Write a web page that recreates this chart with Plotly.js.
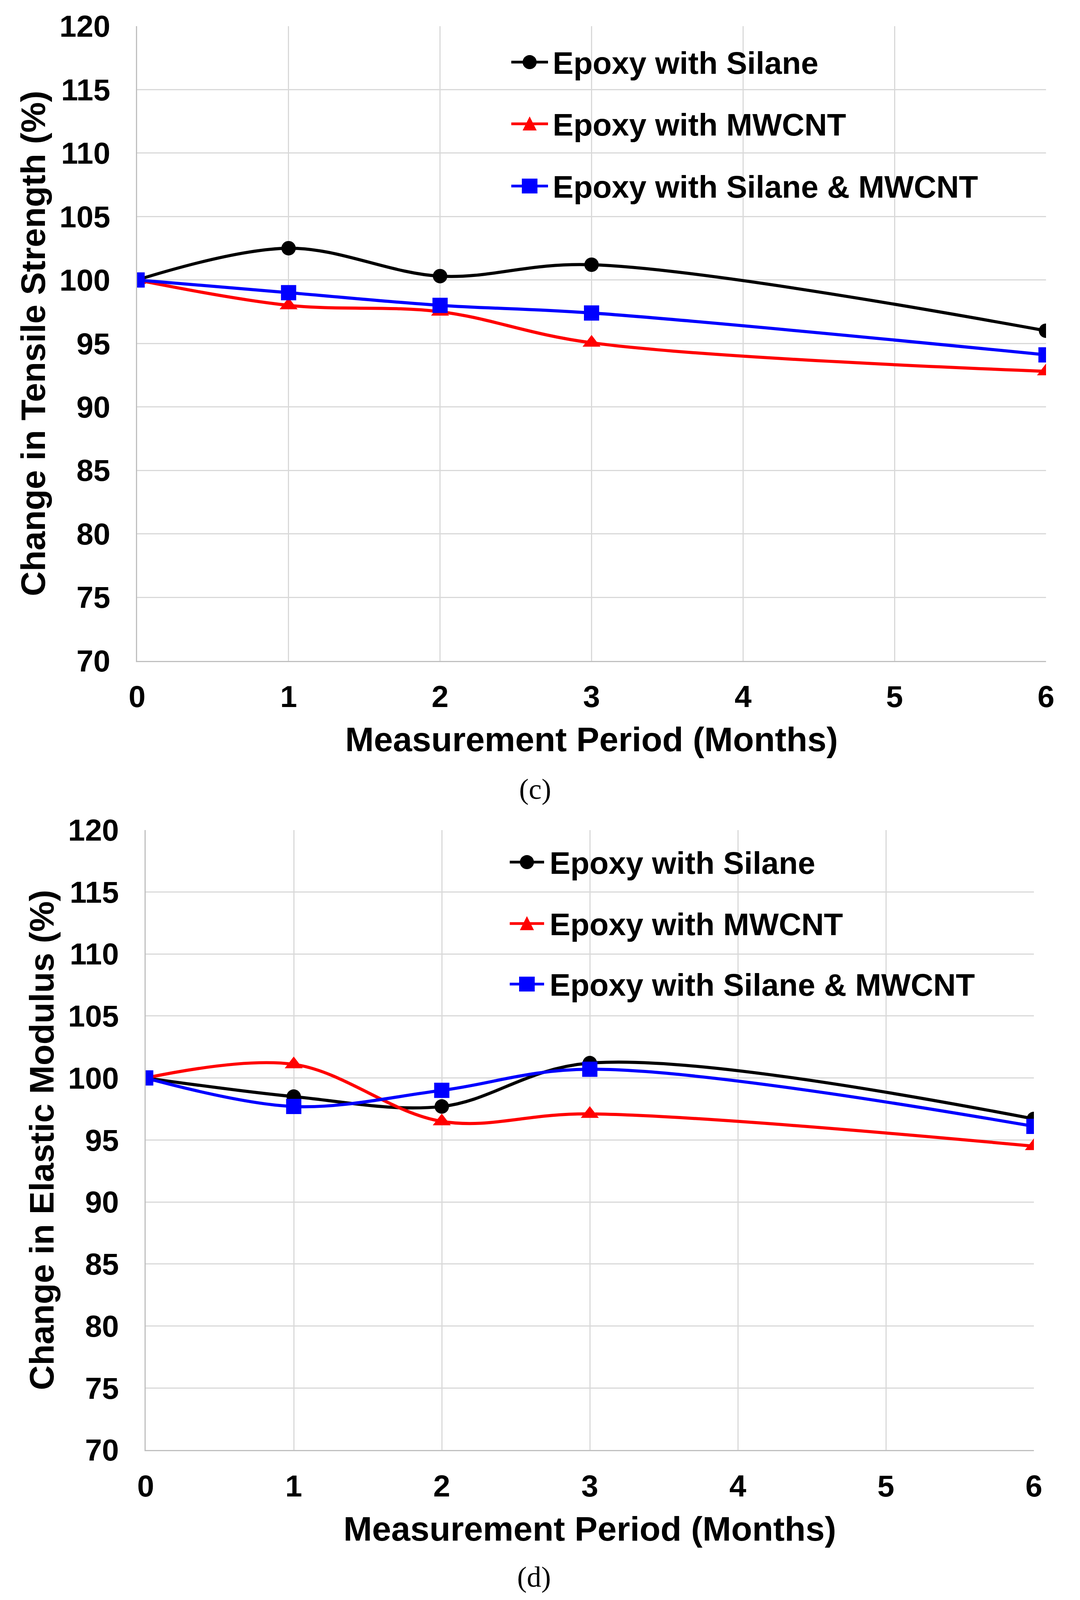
<!DOCTYPE html>
<html>
<head>
<meta charset="utf-8">
<script src="https://cdn.plot.ly/plotly-3.0.1.min.js"></script>
<style>
html,body{margin:0;padding:0;background:#ffffff;overflow:hidden;}
#chart{width:100vw;height:100vh;}
</style>
</head>
<body>
<div id="chart"></div>
<script>
// ---- data ----
const months = [0, 1, 2, 3, 6];
const seriesNames = ['Epoxy with Silane', 'Epoxy with MWCNT', 'Epoxy with Silane & MWCNT'];
const tensileSilane = [100, 102.5, 100.3, 101.2, 96.0];
const tensileMWCNT  = [100, 98.0, 97.5, 95.05, 92.8];
const tensileBoth   = [100, 99.0, 98.0, 97.4, 94.1];
const modulusSilane = [100, 98.5, 97.7, 101.2, 96.7];
const modulusMWCNT  = [100, 101.1, 96.5, 97.1, 94.5];
const modulusBoth   = [100, 97.7, 99.0, 100.7, 96.1];
const xTickVals = [0, 1, 2, 3, 4, 5, 6];
const yTickVals = [70, 75, 80, 85, 90, 95, 100, 105, 110, 115, 120];
const panelLabels = ['(c)', '(d)'];
const yTitles = ['Change in Tensile Strength (%)', 'Change in Elastic Modulus (%)'];
const xTitle = 'Measurement Period (Months)';

// ---- styles ----
// reference geometry is 2765 x 4172; the page fills whatever viewport it gets
const RW = 2765, RH = 4172;
const W = window.innerWidth > 0 ? window.innerWidth : RW;
const H = window.innerHeight > 0 ? Math.min(window.innerHeight, RH) : RH;
const colors = ['#000000', '#ff0000', '#0000ff'];
const symbols = ['circle', 'triangle-up', 'square'];
const msizes = [37, 40, 39];
const sans = 'Liberation Sans, Arial, sans-serif';
const tickFont = {family: sans, size: 78, color: '#000', weight: 'bold'};
const titleFont = {family: sans, size: 88, color: '#000', weight: 'bold'};
const legFont = {family: sans, size: 80, color: '#000', weight: 'bold'};
const px = v => v / RW;
const py = v => 1 - v / RH;

function makeTraces(vals, xa, ya) {
  return vals.map((v, i) => ({
    type: 'scatter', mode: 'lines+markers', name: seriesNames[i],
    x: months, y: v, xaxis: xa, yaxis: ya, showlegend: false,
    line: {color: colors[i], width: 8, shape: 'spline', smoothing: 1},
    marker: {color: colors[i], symbol: symbols[i], size: msizes[i], line: {width: 0}}
  }));
}

const data = [
  ...makeTraces([tensileSilane, tensileMWCNT, tensileBoth], 'x', 'y'),
  ...makeTraces([modulusSilane, modulusMWCNT, modulusBoth], 'x2', 'y2')
];

function xAxis(domain, anchor) {
  return {
    domain: domain, anchor: anchor, range: [0, 6], tickvals: xTickVals,
    showgrid: true, gridcolor: '#d9d9d9', gridwidth: 3,
    showline: true, linecolor: '#bfbfbf', linewidth: 3,
    zeroline: false, ticks: '', tickfont: tickFont, ticklabelstandoff: 22,
    title: {text: xTitle, font: titleFont, standoff: 36}, fixedrange: true
  };
}
function yAxis(domain, anchor, title) {
  return {
    domain: domain, anchor: anchor, range: [70, 120], tickvals: yTickVals,
    showgrid: true, gridcolor: '#d9d9d9', gridwidth: 3,
    showline: true, linecolor: '#bfbfbf', linewidth: 3,
    zeroline: false, ticks: '', tickfont: tickFont, ticklabelstandoff: 50,
    title: {text: title, font: titleFont, standoff: 8}, fixedrange: true
  };
}

// legend built from shapes + annotations
const legends = [
  {x0: 1309, x1: 1403, xm: 1356, xt: 1413, rows: [162, 323, 485]},
  {x0: 1305, x1: 1393, xm: 1349, xt: 1405, rows: [2248, 2408, 2566]}
];
const shapes = [];
const annotations = [];
legends.forEach(L => {
  L.rows.forEach((ry, i) => {
    shapes.push({type: 'line', xref: 'paper', yref: 'paper', x0: px(L.x0), x1: px(L.x1), y0: py(ry), y1: py(ry),
      line: {color: colors[i], width: 7}, layer: 'above'});
    const base = {xref: 'paper', yref: 'paper', xsizemode: 'pixel', ysizemode: 'pixel',
      xanchor: px(L.xm), yanchor: py(ry), fillcolor: colors[i], line: {width: 0}, layer: 'above'};
    if (symbols[i] === 'circle') shapes.push(Object.assign({type: 'circle', x0: -18, x1: 18, y0: -18, y1: 18}, base));
    else if (symbols[i] === 'square') shapes.push(Object.assign({type: 'rect', x0: -20, x1: 20, y0: -19, y1: 19}, base));
    else shapes.push(Object.assign({type: 'path', path: 'M-18,-17 L18,-17 L0,19 Z'}, base));
    annotations.push({xref: 'paper', yref: 'paper', x: px(L.xt), y: py(ry + 2), xanchor: 'left', yanchor: 'middle',
      text: seriesNames[i], showarrow: false, font: legFont});
  });
});
const serif = {family: 'Liberation Serif, Times New Roman, serif', size: 74, color: '#000'};
annotations.push({xref: 'paper', yref: 'paper', x: px(1370), y: py(2057), xanchor: 'center', yanchor: 'middle',
  text: panelLabels[0], showarrow: false, font: serif});
annotations.push({xref: 'paper', yref: 'paper', x: px(1367), y: py(4112), xanchor: 'center', yanchor: 'middle',
  text: panelLabels[1], showarrow: false, font: serif});

const layout = {
  width: W, height: H,
  margin: {l: 0, r: 0, t: 0, b: 0, pad: 0},
  paper_bgcolor: '#ffffff', plot_bgcolor: '#ffffff',
  showlegend: false,
  xaxis: xAxis([px(351), px(2678)], 'y'),
  yaxis: yAxis([py(1723), py(68)], 'x', yTitles[0]),
  xaxis2: xAxis([px(373), px(2647)], 'y2'),
  yaxis2: yAxis([py(3781), py(2164)], 'x2', yTitles[1]),
  shapes: shapes,
  annotations: annotations
};

Plotly.newPlot('chart', data, layout, {displayModeBar: false, staticPlot: true});
</script>
</body>
</html>
